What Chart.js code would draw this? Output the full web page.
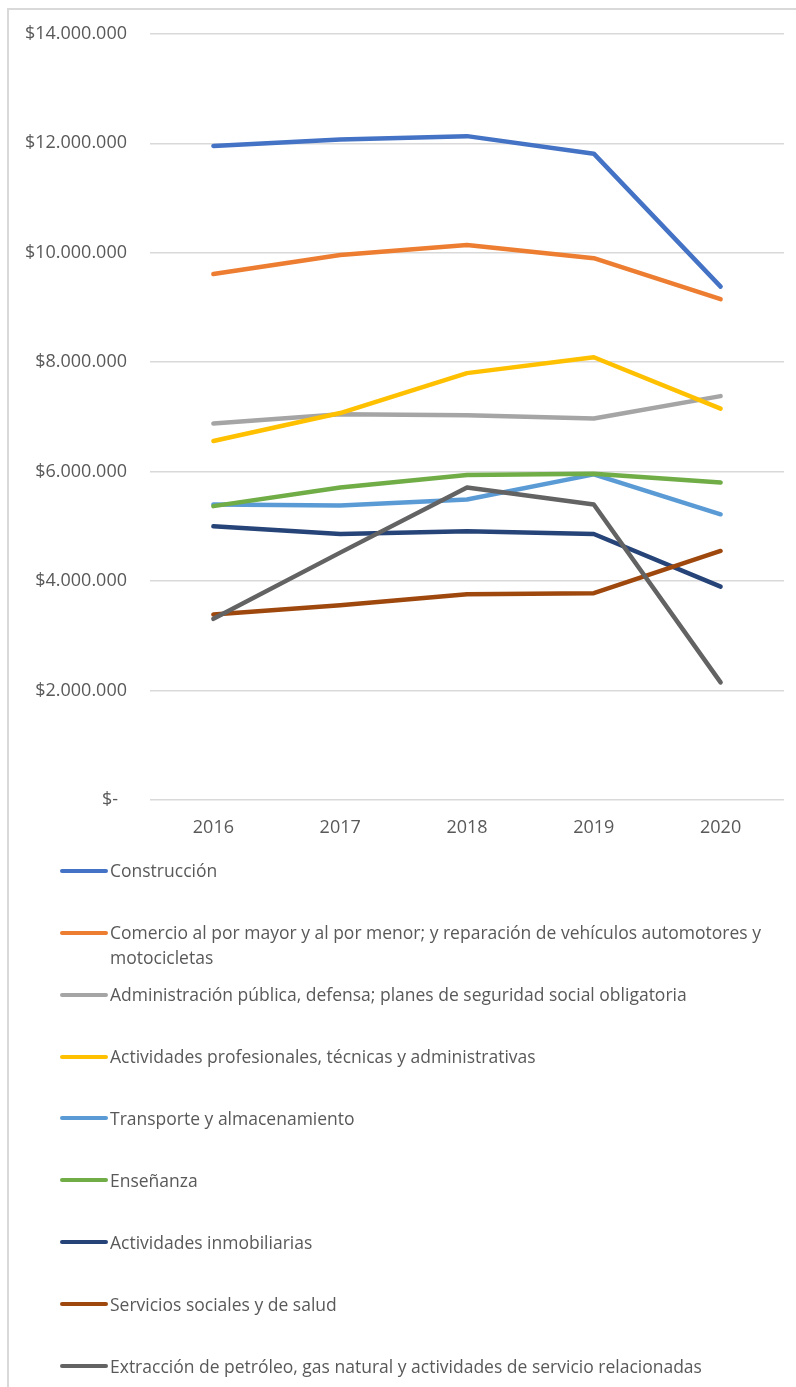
<!DOCTYPE html>
<html>
<head>
<meta charset="utf-8">
<script src="https://cdn.jsdelivr.net/npm/chart.js@4.4.1/dist/chart.umd.min.js"></script>
<style>
  html, body { margin: 0; padding: 0; background: #fff; width: 796px; height: 1387px; overflow: hidden; }
  #frame { position: absolute; left: 7px; top: 8px; width: 800px; height: 1400px; border-left: 2px solid #d9d9d9; border-top: 2px solid #d9d9d9; box-sizing: border-box; }
  #wrap { position: absolute; left: 0; top: 0; width: 796px; height: 850px; }
  #legend { position: absolute; left: 0; top: 0; width: 796px; height: 1387px; pointer-events: none; }
  .item { position: absolute; left: 0; height: 25px; width: 796px; }
  .sw { position: absolute; left: 60px; top: 10.5px; width: 48px; height: 4px; border-radius: 2px; }
  .tx { position: absolute; left: 110px; top: 0; width: 690px; font-family: "Open Sans", sans-serif; font-size: 17.5px; line-height: 25px; color: #595959; white-space: normal; }
</style>
</head>
<body>
<div id="frame"></div>
<div id="wrap"><canvas id="c"></canvas></div>
<div id="legend"></div>
<script>
const categories = ["2016", "2017", "2018", "2019", "2020"];

const seriesNames = [
  "Construcción",
  "Comercio al por mayor y al por menor; y reparación de vehículos automotores y motocicletas",
  "Administración pública, defensa; planes de seguridad social obligatoria",
  "Actividades profesionales, técnicas y administrativas",
  "Transporte y almacenamiento",
  "Enseñanza",
  "Actividades inmobiliarias",
  "Servicios sociales y de salud",
  "Extracción de petróleo, gas natural y actividades de servicio relacionadas"
];

const construccion   = [11950000, 12070000, 12130000, 11810000, 9380000];
const comercio       = [9610000, 9960000, 10140000, 9900000, 9150000];
const administracion = [6880000, 7050000, 7030000, 6970000, 7380000];
const profesionales  = [6560000, 7070000, 7800000, 8090000, 7150000];
const transporte     = [5400000, 5380000, 5490000, 5950000, 5220000];
const ensenanza      = [5370000, 5710000, 5940000, 5960000, 5800000];
const inmobiliarias  = [5000000, 4860000, 4910000, 4860000, 3900000];
const salud          = [3390000, 3560000, 3760000, 3780000, 4550000];
const petroleo       = [3310000, 4520000, 5710000, 5400000, 2150000];

const yTickValues = [0, 2000000, 4000000, 6000000, 8000000, 10000000, 12000000, 14000000];

const seriesValues = [construccion, comercio, administracion, profesionales, transporte, ensenanza, inmobiliarias, salud, petroleo];
const seriesColors = ["#4472C4", "#ED7D31", "#A5A5A5", "#FFC000", "#5B9BD5", "#70AD47", "#264478", "#9E480E", "#636363"];

function fmtMoney(v) {
  if (v === 0) return "$-\u2002";
  return "$" + String(Math.round(v)).replace(/\B(?=(\d{3})+(?!\d))/g, ".");
}

const datasets = seriesValues.map((vals, i) => ({
  label: seriesNames[i],
  data: vals,
  borderColor: seriesColors[i],
  backgroundColor: seriesColors[i],
  borderWidth: 4.5,
  borderCapStyle: "round",
  borderJoinStyle: "round",
  pointRadius: 0,
  pointHoverRadius: 0,
  tension: 0,
  fill: false,
  order: seriesValues.length - i
}));

const canvas = document.getElementById("c");
const chart = new Chart(canvas, {
  type: "line",
  data: { labels: categories, datasets: datasets },
  options: {
    responsive: true,
    maintainAspectRatio: false,
    animation: false,
    devicePixelRatio: 1,
    layout: { padding: { left: 0, right: 12, top: 32, bottom: 0 } },
    plugins: { legend: { display: false }, tooltip: { enabled: false } },
    scales: {
      x: {
        offset: true,
        grid: { display: false, drawTicks: false },
        border: { display: false },
        ticks: { color: "#595959", font: { family: "Open Sans", size: 18 }, padding: 17 },
        afterFit: (s) => { s.height = 50; }
      },
      y: {
        min: 0,
        max: 14000000,
        afterBuildTicks: (s) => { s.ticks = yTickValues.map(v => ({ value: v })); },
        grid: { color: "#d9d9d9", lineWidth: 1.5, drawTicks: false },
        border: { display: false },
        ticks: { color: "#595959", font: { family: "Open Sans", size: 18 }, padding: 23, callback: (v) => fmtMoney(v) },
        afterFit: (s) => { s.width = 150; }
      }
    }
  }
});

// HTML legend generated from the chart's datasets
const legendEl = document.getElementById("legend");
chart.data.datasets.forEach((ds, i) => {
  const item = document.createElement("div");
  item.className = "item";
  item.style.top = (870.8 + 61.9 * i - 12.5) + "px";
  const sw = document.createElement("div");
  sw.className = "sw";
  sw.style.background = ds.borderColor;
  const tx = document.createElement("div");
  tx.className = "tx";
  tx.textContent = ds.label;
  item.appendChild(sw);
  item.appendChild(tx);
  legendEl.appendChild(item);
});
</script>
</body>
</html>
